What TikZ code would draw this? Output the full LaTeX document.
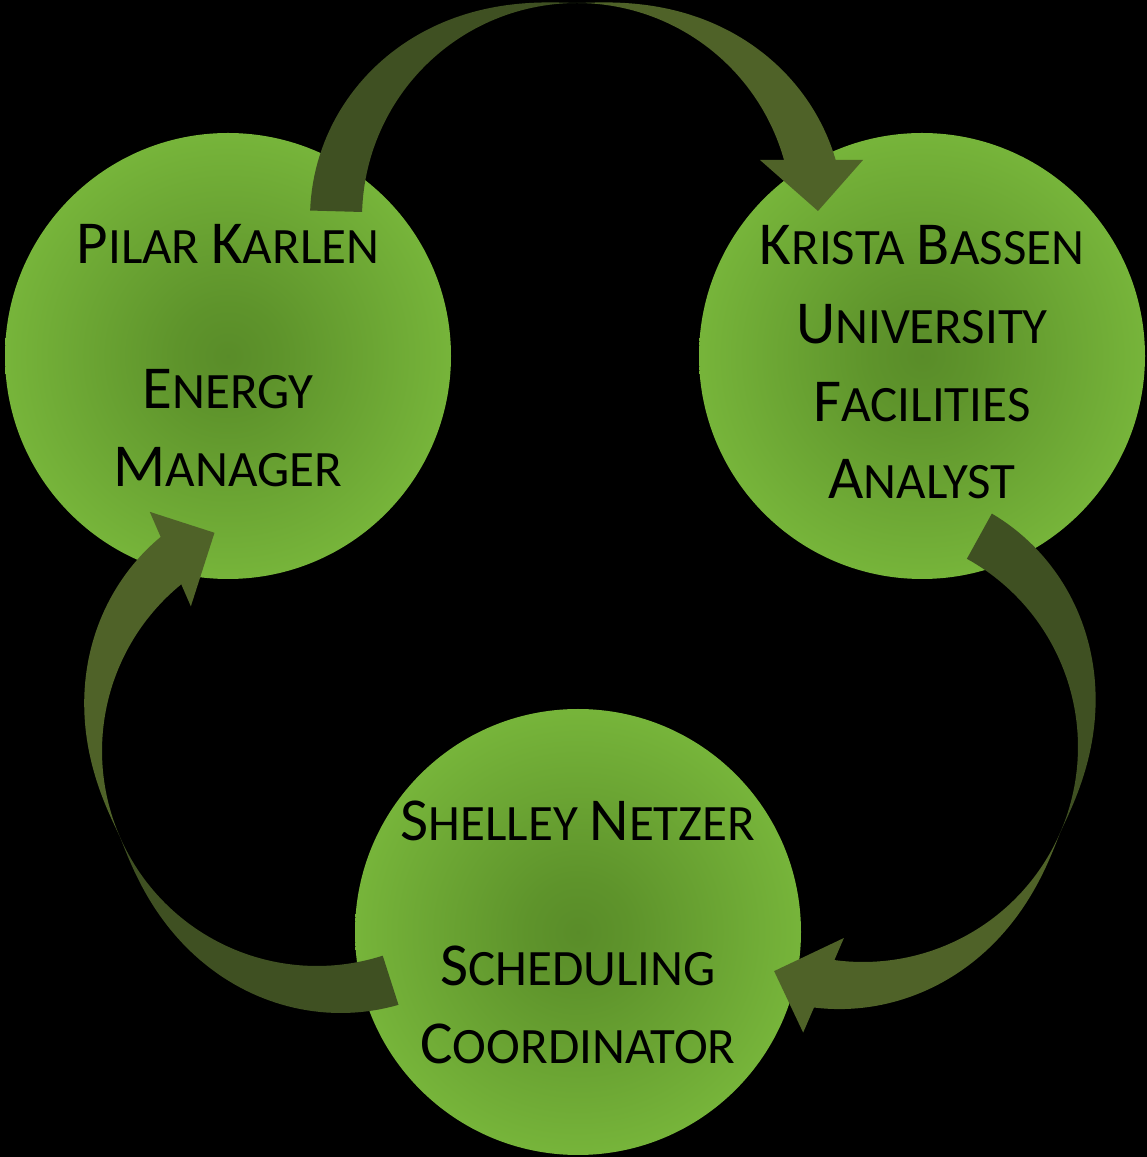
\documentclass[tikz,border=0pt]{standalone}
\usepackage{fontspec}
\setmainfont{Carlito}
\pgfdeclareradialshading{ballshade}{\pgfpoint{0bp}{0bp}}{rgb(0bp)=(0.35,0.55,0.16); rgb(6bp)=(0.37,0.58,0.17); rgb(32bp)=(0.50,0.755,0.25); rgb(50bp)=(0.515,0.77,0.26)}
\definecolor{arrdark}{RGB}{63,80,34}
\definecolor{arrlight}{RGB}{79,98,40}
\newcommand\capA{\fontsize{61}{61}\selectfont}
\newcommand\capB{\fontsize{51}{51}\selectfont}
% #1 centre of the arc, #2 rotation, #3 tail angle
\newcommand\cyclearrow[3]{%
\begin{scope}[shift={#1},rotate=#2]
\fill[arrdark] plot[domain=90:#3,samples=60,variable=\t] ({215*cos(\t)},{215*sin(\t)})
 -- plot[domain=#3:90,samples=60,variable=\t] ({(215+52*abs(cos(\t))*sqrt(abs(cos(\t))))*cos(\t)},{(215+52*abs(cos(\t))*sqrt(abs(cos(\t))))*sin(\t)}) -- cycle;
\fill[arrlight] plot[domain=90:14.5,samples=60,variable=\t] ({215*cos(\t)},{215*sin(\t)})
 -- plot[domain=11.5:90,samples=60,variable=\t] ({(215+52*abs(cos(\t))*sqrt(abs(cos(\t))))*cos(\t)},{(215+52*abs(cos(\t))*sqrt(abs(cos(\t))))*sin(\t)}) -- cycle;
\fill[arrlight] (183,58) -- (241,7) -- (286,58) -- cycle;
\end{scope}}
\tikzset{
  ball/.style={circle, minimum size=446pt, inner sep=0pt, shade, shading=ballshade},
  lbl/.style={anchor=base, inner sep=0pt, text=black}
}
\begin{document}
\begin{tikzpicture}[x=1pt,y=1pt]
\fill[black] (0,0) rectangle (1147,1157);
\useasboundingbox (0,0) rectangle (1147,1157);
% circles
\node[ball] (pk) at (228,801) {};
\node[ball] (kb) at (922,801) {};
\node[ball] (sn) at (578,225) {};
% arrows
\cyclearrow{(577,939)}{0}{178.4}
\cyclearrow{(863,410)}{-113.3}{174.4}
\cyclearrow{(317,406)}{113.5}{174.3}
% texts
\node[lbl] (pk1) at (228,893) {\capA P\capB ILAR \capA K\capB ARLEN};
\node[lbl] (pk2) at (228,748) {\capA E\capB NERGY};
\node[lbl] (pk3) at (228,670) {\capA M\capB ANAGER};
\node[lbl] (kb1) at (922,892) {\capA K\capB RISTA \capA B\capB ASSEN};
\node[lbl] (kb2) at (922,813) {\capA U\capB NIVERSITY};
\node[lbl] (kb3) at (922,735) {\capA F\capB ACILITIES};
\node[lbl] (kb4) at (922,658) {\capA A\capB NALYST};
\node[lbl] (sn1) at (578,316) {\capA S\capB HELLEY \capA N\capB ETZER};
\node[lbl] (sn2) at (578,171) {\capA S\capB CHEDULING};
\node[lbl] (sn3) at (578,93) {\capA C\capB OORDINATOR};
\end{tikzpicture}
\end{document}
